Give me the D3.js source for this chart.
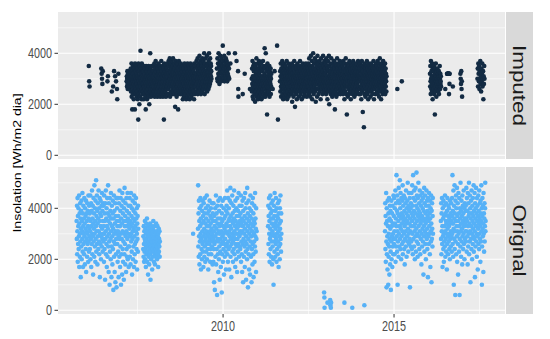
<!DOCTYPE html>
<html>
<head>
<meta charset="utf-8">
<script src="https://cdn.jsdelivr.net/npm/d3@7"></script>
<style>
body { margin: 0; background: #fff; }
text { font-family: "Liberation Sans", Arial, sans-serif; }
</style>
</head>
<body>
<svg id="chart" width="550" height="339"></svg>
<script>
// facet names (typo kept as in the source chart)
const panelNames = ["Imputed", "Orignal"];
const panelColors = ["#132B43", "#56B1F7"];

// daily insolation, values in hundreds of Wh/m2 per day, one value every `step` days from `start`
const imputedRuns = [
    { start: "2007-03-08", step: 2, v: "29 31 27 30 33 28 26 32 30 29 31 27 28 33 30 26 29 32 31 28 27 30 " +
        "34 25 30 28 36 23 31 27 18 33 29 24 35 26 30 32 22 28 34 25 31 29 18 36 27 24 33 30 26 35 29 23 32 28 25 34 31 22 27 30 14 36 24 29 33 26 20 31 28 35 23 30 41 27 32 25 34 29 22 36 26 31 28 24 33 " +
        "30 25 33 28 22 35 27 31 24 29 34 26 32 23 30 18 28 35 25 31 27 33 22 29 34 26 30 24 32 28 35 23 27 31 20 29 33 25 30 40 26 34 28 23 32 29 35 24 27 31 30 26 33 " +
        "28 35 24 31 27 33 25 30 36 29 23 32 26 34 28 37 24 30 33 27 25 31 35 28 23 29 34 26 32 30 36 24 27 33 29 25 31 35 28 23 30 34 26 32 29 37 24 27 33 31 25 30 35 28 23 29 34 26 32 14 30 36 27 24 31 33 28 25 35 29 23 32 30 26 34 27 31 24 36 29 33 28 " +
        "32 26 37 29 24 35 31 27 38 30 23 33 28 36 25 31 34 27 29 37 24 32 30 26 35 28 38 25 33 29 31 24 36 27 30 34 26 19 32 28 37 25 31 35 29 23 33 27 36 30 24 32 28 18 34 26 31 37 29 25 33 30 27 35 24 32 28 36 26 31 29 34 25 " +
        "30 24 33 27 35 22 29 31 26 34 28 23 32 25 36 30 27 33 24 29 35 26 31 22 28 34 30 25 32 27 36 23 29 33 26 31 28 35 24 30 27 34 22 32 29 25 36 28 31 26 33 23 30 35 27 29 24 32 34 26 28 31 25 33 30 22 36 27 29 24 32 28 35 " +
        "31 27 35 29 25 37 32 28 34 26 30 38 24 33 29 36 27 31 35 25 32 39 28 30 34 26 37 29 33 24 31 36 27 35 30 28 38 25 32 34 29 26 37 31 33 27 40 30 35 24 32 36 28 29 38 26 33 31 35 27 30 39 25 34 32 28 36 29 33 26 37 31 40 27 35 30 34 28 38 32 29 36 31 35 33 30" },
    { start: "2009-10-27", step: 3, v: "34 30 38 29 36 32 40 31 35 28 37 33 39 30 34 29 36 38 32 35 31 43 33 37 30 34 39 29 35 32 36 31 38 30 34 37 33 29 36 32 35 31 40 34 30" },
    { start: "2010-11-03", step: 2, v: "30 25 34 28 37 23 31 27 35 22 29 33 26 36 24 31 28 34 21 30 27 35 25 32 29 38 23 28 33 26 31 24 36 29 22 34 27 30 25 37 32 28 23 35 30 26 33 29 24 36 27 31 22 34 28 30 25 33 29 26 37 31 23 28 35 27 30 24 32 42 26 34 29 23 31 40 28 35 25 30 33 27 16 29 36 24 31 26 34 28 32 25 30 27 35 23 33 29 26 31 28 34 24 30 27 32" },
    { start: "2011-09-01", step: 2, v: "29 33 25 31 36 27 23 34 30 26 32 28 37 24 30 35 27 22 31 33 26 29 36 25 32 28 34 23 30 27 35 31 24 29 33 26 37 28 22 32 30 25 34 27 31 36 23 29 33 26 30 28 35 24 32 27 31 34 25 29 " +
        "33 27 30 24 36 21 29 32 26 35 28 31 23 34 30 27 37 25 32 29 19 33 26 31 35 28 24 30 34 27 22 32 29 36 25 31 28 33 26 35 30 23 29 34 27 32 25 37 28 31 24 33 30 26 35 29 22 32 27 34 31 25 36 28 30 23 33 29 26 35 31 27 24 32 30 34 28 25 36 29 33 26 31 23 30 35 27 32 28 34 25 " +
        "31 36 27 33 24 38 29 32 26 35 30 23 34 28 39 31 25 33 29 37 27 22 32 35 30 26 40 28 34 24 31 36 29 33 27 38 25 30 34 28 21 32 37 26 31 29 35 23 33 39 28 30 26 36 32 24 29 34 31 27 37 25 33 30 28 35 22 31 38 27 32 29 34 26 36 30 24 33 28 39 31 27 35 29 25 32 37 30 26 34 28 " +
        "32 27 36 30 24 38 29 33 26 35 31 22 34 28 37 25 30 33 27 39 29 20 32 35 26 31 28 36 24 33 30 27 38 29 25 34 31 23 32 36 28 30 26 35 29 33 24 37 31 27 34 18 30 25 32 36 28 33 29 23 35 31 26 38 30 27 34 24 32 29 36 26 31 33 28 25 35 30 37 27 32 24 34 29 31 26 36 28 33 30 25 " +
        "30 35 27 32 24 37 29 33 26 34 31 22 36 28 30 25 33 29 38 27 31 24 35 30 16 32 27 34 29 23 36 31 26 33 28 35 24 30 37 29 32 25 34 27 31 22 33 30 36 28 26 35 29 32 24 34 31 27 37 30 25 33 28 36 23 31 29 34 26 32 30 35 27 24 33 29 36 31 28 25 34 30 32 26 37 29 33 27 31 24 35 " +
        "29 34 26 31 36 24 30 33 27 35 22 32 28 37 25 30 34 29 17 33 26 31 35 28 11 30 24 36 32 27 29 34 23 31 33 26 35 28 30 25 37 29 32 24 34 27 31 22 36 30 28 33 25 35 29 26 32 30 34 23 31 27 36 29 33 25 30 28 35 24 32 26 34 31 29 37 27 33 22 30 28 35 26 31 34 24 32 29 36 27 30 " +
        "33 28 35 25 31 29 37 24 32 27 34 30 26 36 23 31 28 33 38 29 25 34 30 27 35 22 32 29 36 26 31 33 28 24 34 30 37 27 32 25 35 29 31 26 33 28 36 24 30 34 27 32 29 25 31" },
    { start: "2016-01-20", step: 2, v: "32 27 35 29 24 37 30 26 33 28 31 25 36 29 22 34 27 31 26 33 29 35 24 30 28 32 16 34 27 30 25 36 29 31 23 33 28 30 26 34 29 31 27 32 25 30 28 33 24 31 29 27 35 30 26 32 28 29 31 27" },
    { start: "2016-07-20", step: 3, v: "32 32 32 32 32 32 32 32 32 32" },
    { start: "2016-12-10", step: 3, v: "32 30 28 33 26 29 23" },
    { start: "2017-06-10", step: 3, v: "30 34 27 36 32 29 35 26 33 30 37 28 31 25 34 29 32 36 27 30 33 22 31 28 35 30" }
];

const imputedPoints = [
    ["2006-01-28", 35], ["2006-02-01", 29], ["2006-02-05", 27],
    ["2006-06-10", 34], ["2006-06-14", 32], ["2006-06-18", 30], ["2006-06-22", 28], ["2006-06-26", 33],
    ["2006-08-15", 29], ["2006-08-20", 31], ["2006-10-01", 25], ["2006-10-15", 27],
    ["2006-10-25", 33], ["2006-11-05", 31], ["2006-11-15", 29], ["2006-11-25", 26], ["2006-11-28", 22], ["2006-12-10", 32],
    ["2010-03-20", 36], ["2010-05-08", 40], ["2010-05-25", 37], ["2010-06-10", 33], ["2010-06-12", 26],
    ["2010-06-14", 23], ["2010-07-30", 24], ["2010-08-20", 32], ["2010-10-15", 26],
    ["2011-06-15", 26], ["2011-07-05", 33], ["2011-08-01", 43], ["2011-08-10", 14],
    ["2015-02-05", 26], ["2015-03-25", 29],
    ["2016-07-01", 26], ["2016-08-10", 24], ["2016-08-15", 28], ["2016-09-20", 27]
];

const originalRuns = [
    { start: "2005-09-20", step: 2, v: "35 28 41 22 31 44 19 37 26 33 40 24 29 45 17 34 38 21 30 42 27 36 13 32 39 25 43 20 35 31 28 46 23 38 17 33 41 26 30 36 22 44 29 34 18 40 27 32 37 24 43 15 31 38 28 35 21 42 30 26 39 33 19 45 27 36 23 41 32 29 " +
        "38 24 31 45 20 35 28 42 17 33 39 26 47 30 22 36 41 29 14 34 44 27 32 38 21 49 30 25 40 35 19 43 28 33 51 23 37 31 45 26 39 18 34 42 29 36 24 47 31 27 40 22 35 44 13 30 38 26 43 33 20 37 29 41 25 46 32 28 39 23 35 42 30 " +
        "27 41 33 19 45 30 24 38 35 12 42 28 31 47 22 36 26 40 17 33 44 29 21 38 32 49 25 35 15 42 30 27 37 10 44 23 34 39 28 20 46 31 36 13 25 41 33 29 18 38 43 24 32 8 36 27 45 21 30 39 15 34 26 42 11 31 37 22 28 44 9 35 30 " +
        "40 26 33 19 44 31 23 37 13 29 42 35 21 47 28 33 17 39 25 44 30 10 36 22 41 28 34 14 46 31 24 38 19 43 27 35 12 40 30 22 48 33 26 37 18 42 29 35 15 31 44 24 39 21 33 28 46 20 36 30 25 41 17 34 " +
        "38 25 32 44 21 35 29 41 18 33 46 27 30 37 23 40 14 34 28 43 31 20 36 25 39 32 17 45 29 35 22 42 26 33 38 19 31 44 27 36 24 40 30 16 34 28 37 23 41 32" },
    { start: "2007-09-01", step: 2, v: "24 29 21 33 26 19 31 23 28 35 20 27 32 24 17 30 25 34 22 28 36 19 26 31 23 29 14 33 25 21 30 27 18 32 24 29 22 34 26 12 28 31 20 25 33 23 30 27 16 24 29 32 21 26 35 23 28 19 31 25 27 33 22 18 29 24 30 26 21 34 28 23 31 25 20 27 33 24 29 22 17 30 26 32 23 28 25 31 21 27" },
    { start: "2009-04-08", step: 2, v: "32 49 25 38 21 43 29 35 18 40 27 33 22 44 30 36 16 28 41 24 34 20 39 31 26 43 23 37 29 17 35 42 27 32 21 38 25 44 30 19 34 28 40 23 36 31 26 45 20 33 29 38 24 41 27 16 35 30 22 39 33 26 43 28 31 19 37 24 34 40 29 22 36 32 25 42 27 30 18 38 " +
        "28 35 19 42 24 31 11 37 26 33 8 29 40 21 35 27 45 18 32 38 24 30 6 41 28 34 22 36 15 43 27 31 20 39 25 33 12 30 44 23 36 28 17 34 41 26 31 7 38 22 35 29 43 19 27 33 24 40 30 14 36 26 32 21 44 28 37 23 31 16 39 25 34 " +
        "41 26 33 47 22 38 30 19 44 27 35 24 40 31 16 36 29 43 25 33 48 21 37 28 32 13 42 26 35 30 45 23 38 27 19 34 41 29 24 36 47 31 22 39 28 33 17 43 26 35 30 20 40 25 37 32 15 44 28 34 23 39 30 26 46 33 21 37 29 41 25 35 31 " +
        "24 38 30 45 19 34 27 41 22 36 15 31 43 26 33 11 39 28 35 21 44 30 25 37 17 32 46 27 40 23 34 12 29 42 26 36 20 48 31 24 38 9 33 28 43 22 35 16 30 40 25 37 14 32 45 27 34 21 39 29 11 36 24 42 31 18 26 44 33 22 38 13 30 35 27 41 19 34 25 46 29 36 23 32 15 40 28 31" },
    { start: "2011-04-27", step: 2, v: "33 41 26 37 22 44 30 35 19 40 28 32 45 24 38 29 21 36 42 27 34 18 39 31 25 43 30 36 20 10 33 41 27 37 23 46 29 34 21 39 32 26 44 28 35 19 40 30 24 37 33 22 42 27 36 31 17 38 25 43 29 34 20 40 32 26 45 28 35 23 38 30" },
    { start: "2014-09-27", step: 2, v: "31 42 24 37 19 34 46 27 9 40 22 35 29 16 43 26 33 10 38 21 30 44 25 14 36 28 41 18 32 39 23 8 35 27 43 20 33 29 38 17 41 25 34 30 22 45 28 " +
        "37 26 44 31 22 40 34 28 47 19 36 42 25 33 53 29 39 23 45 31 10 38 27 43 35 21 48 30 37 25 42 33 51 28 40 24 46 32 36 20 44 29 38 34 26 43 31 49 22 37 41 27 35 45 30 24 39 33 18 44 28 36 42 31 25 47 34 38 21 40 29 35 43 27 50 32 37 23 41 30 46 26 39 34 28 44 9 36 31 40 25 " +
        "42 33 27 46 38 24 35 49 30 41 22 37 53 28 44 33 39 25 47 31 36 20 43 34 29 48 38 23 41 32 54 27 45 35 30 40 21 44 37 26 50 33 39 29 42 24 36 47 31 38 22 45 34 28 41 35 18 43 30 37 25 46 32 40 27 44 36 14 39 33 29 48 23 42 35 31 45 26 38 34 20 41 30 47 36 28 43 32 24 39 37 13 44 29 35 41 26 46 33 30 38 22 43 36 17 40 31 27 45 34 11 39 28 42 32 25 37 44 30" },
    { start: "2016-05-15", step: 2, v: "35 28 42 22 38 31 44 26 33 17 40 29 36 24 43 30 19 37 27 41 33 25 45 31 21 38 28 35 42 23 34 30 16 39 26 44 32 29 37 22 41 35 27 33 40 24 36 30 20 43 28 34 38 25 31 42 29 35 23 37 " +
        "44 30 53 26 39 34 21 47 32 10 41 28 36 49 24 38 31 6 43 27 35 45 22 40 33 29 48 19 37 31 42 26 14 35 46 30 38 23 44 33 6 28 40 36 25 50 31 39 21 34 43 27 37 32 18 45 29 41 35 24 38 30 47 26 33 40 20 36 42 28 34 31 39 " +
        "41 27 36 48 31 23 44 35 29 39 18 46 33 25 42 37 30 50 22 38 34 27 45 31 40 11 36 28 43 33 24 47 38 30 20 41 35 26 44 32 37 29 49 23 39 34 28 46 31 13 42 36 25 40 33 48 27 38 30 21 44 35 29 41 16 37 32 45 26 39 34 24 47 30 36 42 28 33 19 43 38 27 35 49 31 40 10 25 37 44 32 29 41 34 15 46 30 38 23 36 42 27 33 40 50 31 35" }
];

const originalPoints = [
    ["2009-02-15", 30],
    ["2012-12-15", 7], ["2012-12-18", 5], ["2012-12-20", 1], ["2013-01-20", 3], ["2013-02-18", 4],
    ["2013-02-20", 2], ["2013-02-25", 1], ["2013-02-28", 3], ["2013-07-20", 3], ["2013-10-12", 1], ["2014-02-18", 2]
];

const xDomain = ["2005-03-05", "2018-03-31"];
const xTicks = ["2010-01-01", "2015-01-01"];
const xMinorTicks = ["2007-07-02", "2012-07-02", "2017-07-02"];
const yTicks = [0, 2000, 4000];
const yMinorTicks = [1000, 3000, 5000];
const yTitle = "Insolation [Wh/m2 dia]";

const parseDate = d3.timeParse("%Y-%m-%d");

function expand(runs, points) {
    const out = [];
    runs.forEach(r => {
        const t0 = parseDate(r.start);
        r.v.trim().split(/\s+/).forEach((s, i) => {
            out.push({ date: d3.timeDay.offset(t0, i * r.step), value: +s * 100 });
        });
    });
    points.forEach(p => out.push({ date: parseDate(p[0]), value: p[1] * 100 }));
    return out;
}

const panelData = [expand(imputedRuns, imputedPoints), expand(originalRuns, originalPoints)];

const svg = d3.select("#chart");
const left = 58, right = 505, panelH = 147;
const panelTops = [12, 167];
const stretch = 1.28;   // the source image is stretched vertically

const x = d3.scaleTime().domain(xDomain.map(parseDate)).range([left, right]);
const y = d3.scaleLinear().domain([-145, 5620]).range([panelH, 0]);

svg.append("rect").attr("width", 550).attr("height", 339).attr("fill", "#fff");

panelNames.forEach((name, pi) => {
    const g = svg.append("g").attr("transform", `translate(0,${panelTops[pi]})`);

    g.append("clipPath").attr("id", "clip" + pi)
        .append("rect").attr("x", left).attr("y", 0).attr("width", right - left).attr("height", panelH);

    g.append("rect")
        .attr("x", left).attr("y", 0)
        .attr("width", right - left).attr("height", panelH)
        .attr("fill", "#EBEBEB");

    // minor grid
    g.selectAll(".ymin").data(yMinorTicks).enter().append("line")
        .attr("x1", left).attr("x2", right)
        .attr("y1", d => y(d)).attr("y2", d => y(d))
        .attr("stroke", "#fff").attr("stroke-width", 0.6);
    g.selectAll(".xmin").data(xMinorTicks).enter().append("line")
        .attr("x1", d => x(parseDate(d))).attr("x2", d => x(parseDate(d)))
        .attr("y1", 0).attr("y2", panelH)
        .attr("stroke", "#fff").attr("stroke-width", 0.6);

    // major grid
    g.selectAll(".ymaj").data(yTicks).enter().append("line")
        .attr("x1", left).attr("x2", right)
        .attr("y1", d => y(d)).attr("y2", d => y(d))
        .attr("stroke", "#fff").attr("stroke-width", 1.1);
    g.selectAll(".xmaj").data(xTicks).enter().append("line")
        .attr("x1", d => x(parseDate(d))).attr("x2", d => x(parseDate(d)))
        .attr("y1", 0).attr("y2", panelH)
        .attr("stroke", "#fff").attr("stroke-width", 1.1);

    g.append("g").attr("clip-path", `url(#clip${pi})`)
        .selectAll("circle")
        .data(panelData[pi])
        .enter().append("circle")
        .attr("cx", d => x(d.date))
        .attr("cy", d => y(d.value))
        .attr("r", 2.3)
        .attr("fill", panelColors[pi]);

    // y axis
    g.selectAll(".ytick").data(yTicks).enter().append("line")
        .attr("x1", left - 3.5).attr("x2", left)
        .attr("y1", d => y(d)).attr("y2", d => y(d))
        .attr("stroke", "#333").attr("stroke-width", 1);
    g.selectAll(".ylab").data(yTicks).enter().append("text")
        .attr("transform", d => `translate(${left - 6},${y(d)}) scale(1,${stretch})`)
        .attr("text-anchor", "end")
        .attr("dominant-baseline", "central")
        .attr("font-size", "10.8px")
        .attr("fill", "#4D4D4D")
        .text(d => d);

    // strip
    g.append("rect")
        .attr("x", right + 1).attr("y", 0)
        .attr("width", 27).attr("height", panelH)
        .attr("fill", "#D9D9D9");
    g.append("text")
        .attr("transform", `translate(${right + 14.5},${panelH / 2}) rotate(90) scale(${stretch},1)`)
        .attr("text-anchor", "middle")
        .attr("dominant-baseline", "central")
        .attr("font-size", "17.5px")
        .attr("fill", "#1A1A1A")
        .text(name);
});

// x axis under the bottom panel
const axisY = panelTops[1] + panelH;
svg.selectAll(".xtick").data(xTicks).enter().append("line")
    .attr("x1", d => x(parseDate(d))).attr("x2", d => x(parseDate(d)))
    .attr("y1", axisY).attr("y2", axisY + 3.5)
    .attr("stroke", "#333").attr("stroke-width", 1);
svg.selectAll(".xlab").data(xTicks).enter().append("text")
    .attr("transform", d => `translate(${x(parseDate(d))},${axisY + 13}) scale(1,${stretch})`)
    .attr("text-anchor", "middle")
    .attr("dominant-baseline", "central")
    .attr("font-size", "10.8px")
    .attr("fill", "#4D4D4D")
    .text(d => d3.timeFormat("%Y")(parseDate(d)));

svg.append("text")
    .attr("transform", `translate(18,${(panelTops[0] + axisY) / 2}) rotate(-90) scale(${stretch},1)`)
    .attr("text-anchor", "middle")
    .attr("dominant-baseline", "central")
    .attr("font-size", "11px")
    .attr("fill", "#000")
    .text(yTitle);
</script>
</body>
</html>
